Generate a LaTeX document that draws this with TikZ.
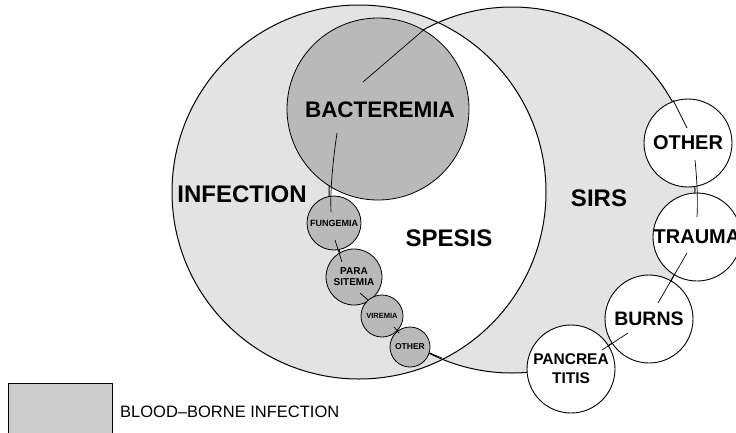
\documentclass[tikz,border=0pt]{standalone}
\usepackage{fontspec}
\setmainfont{Liberation Sans}
\begin{document}
\begin{tikzpicture}[x=1pt,y=-1pt,
  big/.style={draw=black, line width=1pt},
  blood/.style={circle, draw=black, line width=0.8pt, fill=gray!55, inner sep=0pt, align=center, font=\bfseries\fontsize{8}{8}\selectfont},
  sirsc/.style={circle, draw=black, line width=0.9pt, fill=white, inner sep=0pt, minimum size=88pt, align=center},
  lbl/.style={font=\bfseries\fontsize{24}{24}\selectfont, inner sep=0pt},
  link/.style={draw=black, line width=0.7pt}]
\useasboundingbox (0,0) rectangle (736,432);
% big circles
\fill[gray!22] (359,192) circle (187pt);
\fill[gray!22] (512,190) circle (183pt);
\begin{scope}
  \clip (359,192) circle (187pt);
  \fill[white] (512,190) circle (183pt);
\end{scope}
\draw[big] (359,192) circle (187pt);
\draw[big] (512,190) circle (183pt);
% bacteremia
\node[blood, minimum size=182pt] (bact) at (378,109) {};
\node[lbl, font=\bfseries\fontsize{22.5}{22.5}\selectfont] (bactl) at (380,110) {BACTEREMIA};
% small blood-borne circles
\node[blood, minimum size=54pt, font=\bfseries\fontsize{9}{9}\selectfont] (fun) at (334,223) {FUNGEMIA};
\node[blood, minimum size=56pt, font=\bfseries\fontsize{10}{11}\selectfont] (para) at (354,277) {PARA\\SITEMIA};
\node[blood, minimum size=42pt, font=\bfseries\fontsize{7.5}{7.5}\selectfont] (vir) at (382,316) {VIREMIA};
\node[blood, minimum size=40pt, font=\bfseries\fontsize{8.5}{8.5}\selectfont] (oth) at (410,347) {OTHER};
% SIRS circles
\node[sirsc, font=\bfseries\fontsize{20}{20}\selectfont] (other) at (688,143) {OTHER};
\node[sirsc, font=\bfseries\fontsize{20}{20}\selectfont] (trauma) at (697,237) {TRAUMA};
\node[sirsc, font=\bfseries\fontsize{19.5}{19.5}\selectfont] (burns) at (649,319) {BURNS};
\node[sirsc, font=\bfseries\fontsize{15.5}{19}\selectfont] (panc) at (571,369) {PANCREA\\TITIS};
% labels
\node[lbl] (inf) at (242,194) {INFECTION};
\node[lbl] (sep) at (449,238) {SPESIS};
\node[lbl] (sirs) at (599,198) {SIRS};
% connectors
\coordinate (b1) at (363,82);
\coordinate (b2) at (337,133);
\coordinate (f1) at (331,212);
\coordinate (f2) at (335,240);
\coordinate (p1) at (342,262);
\coordinate (p2) at (360,293);
\coordinate (v1) at (368,300);
\coordinate (v2) at (394,327);
\coordinate (o1) at (399,333);
\coordinate (o2) at (430,353);
\coordinate (x1) at (442,358);
\coordinate (s1) at (673,100);
\coordinate (s2) at (687,128);
\coordinate (t1) at (695,160);
\coordinate (t2) at (697,217);
\coordinate (u1) at (687,253);
\coordinate (u2) at (658,303);
\coordinate (w1) at (628,333);
\coordinate (w2) at (602,350);
\draw[link] (bact.60) -- (b1);
\draw[link] (b2) .. controls (333,160) and (330,190) .. (f1);
\draw[link] (f2) -- (p1);
\draw[link] (p2) -- (v1);
\draw[link] (v2) -- (o1);
\draw[link] (o2) -- (x1);
\draw[link] (s1) -- (s2);
\draw[link] (t1) .. controls (697,180) and (698,200) .. (t2);
\draw[link] (u1) -- (u2);
\draw[link] (w1) -- (w2);
% legend
\node[draw=black, line width=0.8pt, fill=gray!40, minimum width=104pt, minimum height=52pt, inner sep=0pt, anchor=north west] (leg) at (8,383) {};
\node[anchor=west, font=\fontsize{16.5}{16.5}\selectfont, inner sep=0pt] (legt) at (120,412) {BLOOD--BORNE INFECTION};
\end{tikzpicture}
\end{document}
